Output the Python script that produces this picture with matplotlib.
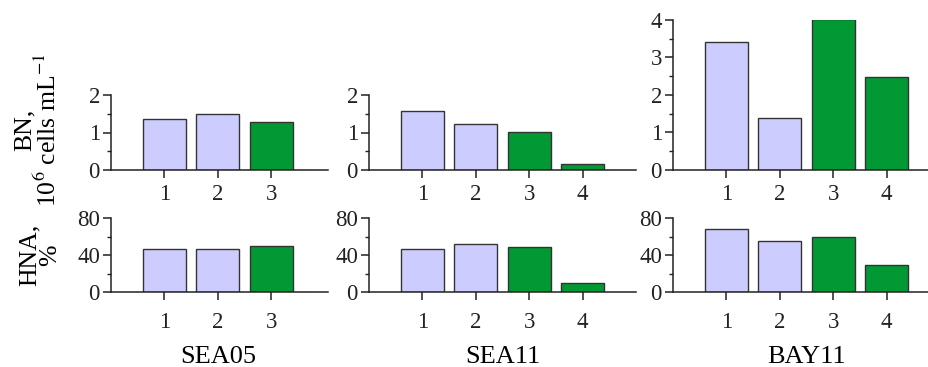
import matplotlib
matplotlib.use("Agg")
import matplotlib.pyplot as plt
import matplotlib.transforms as mtransforms
from matplotlib.ticker import MultipleLocator

plt.rcParams['font.family'] = ['Liberation Serif', 'DejaVu Serif']
plt.rcParams['mathtext.fontset'] = 'stix'

sites = ["SEA05", "SEA11", "BAY11"]
stations = [[1, 2, 3], [1, 2, 3, 4], [1, 2, 3, 4]]
bn_values = [[1.35, 1.49, 1.29], [1.58, 1.24, 1.01, 0.17], [3.41, 1.38, 4.03, 2.49]]
hna_values = [[47.1, 47.3, 50.0], [46.5, 51.9, 49.0, 9.7], [68.4, 55.8, 59.5, 29.2]]
bar_colors = [["#CCCCFF", "#CCCCFF", "#009933"],
              ["#CCCCFF", "#CCCCFF", "#009933", "#009933"],
              ["#CCCCFF", "#CCCCFF", "#009933", "#009933"]]
bn_ylims = [2, 2, 4]
xmax = [4.06, 5.0, 4.79]
label_x = [2, 2.5, 2.5]

W, H = 929, 367
fig = plt.figure(figsize=(W / 100, H / 100), dpi=100)

lefts = [111, 369, 673]
unit_px = 53.4
top_px = {2: 95, 4: 20}
bn_bottom = 170
hna_top, hna_bottom = 218.3, 292.3


def style(ax, ymaj, ymin):
    for s in ['top', 'right']:
        ax.spines[s].set_visible(False)
    for s in ['left', 'bottom']:
        ax.spines[s].set_linewidth(1.1)
        ax.spines[s].set_color('#222222')
    ax.yaxis.set_major_locator(MultipleLocator(ymaj))
    ax.yaxis.set_minor_locator(MultipleLocator(ymin))
    ax.tick_params(axis='y', which='major', length=6, width=1.1, pad=2, labelsize=16.5, direction='out', colors='#222222')
    ax.tick_params(axis='y', which='minor', length=3, width=1.0, direction='out', colors='#222222')
    ax.tick_params(axis='x', which='major', length=6, width=1.1, pad=4, labelsize=16.5, direction='out', colors='#222222')
    ax.patch.set_alpha(0)


for i in range(3):
    left = lefts[i]
    width = xmax[i] * unit_px
    top = top_px[bn_ylims[i]]
    ax1 = fig.add_axes([left / W, 1 - bn_bottom / H, width / W, (bn_bottom - top) / H])
    ax1.bar(stations[i], bn_values[i], width=0.8, color=bar_colors[i], edgecolor='#333333', linewidth=1.0)
    ax1.set_xlim(0, xmax[i])
    ax1.set_ylim(0, bn_ylims[i])
    style(ax1, 1, 0.5)
    ax1.set_xticks(stations[i])

    ax2 = fig.add_axes([left / W, 1 - hna_bottom / H, width / W, (hna_bottom - hna_top) / H])
    ax2.bar(stations[i], hna_values[i], width=0.8, color=bar_colors[i], edgecolor='#333333', linewidth=1.0)
    ax2.set_xlim(0, xmax[i])
    ax2.set_ylim(0, 80)
    style(ax2, 40, 20)
    ax2.set_xticks(stations[i])
    ax2.tick_params(axis='x', pad=8)

    trans = mtransforms.blended_transform_factory(ax2.transData, fig.transFigure)
    ax2.text(label_x[i], 1 - 357 / H, sites[i], transform=trans, ha='center', va='center', fontsize=19)

fig.text(37 / W, 1 - 130 / H, "BN,\n10$^6$ cells mL$^{-1}$", rotation=90, ha='center', va='center',
         fontsize=18.5, linespacing=0.95, multialignment='center')
fig.text(40 / W, 1 - 255 / H, "HNA,\n%", rotation=90, ha='center', va='center',
         fontsize=18.5, linespacing=0.95, multialignment='center')

fig.savefig("out.png", dpi=100)
